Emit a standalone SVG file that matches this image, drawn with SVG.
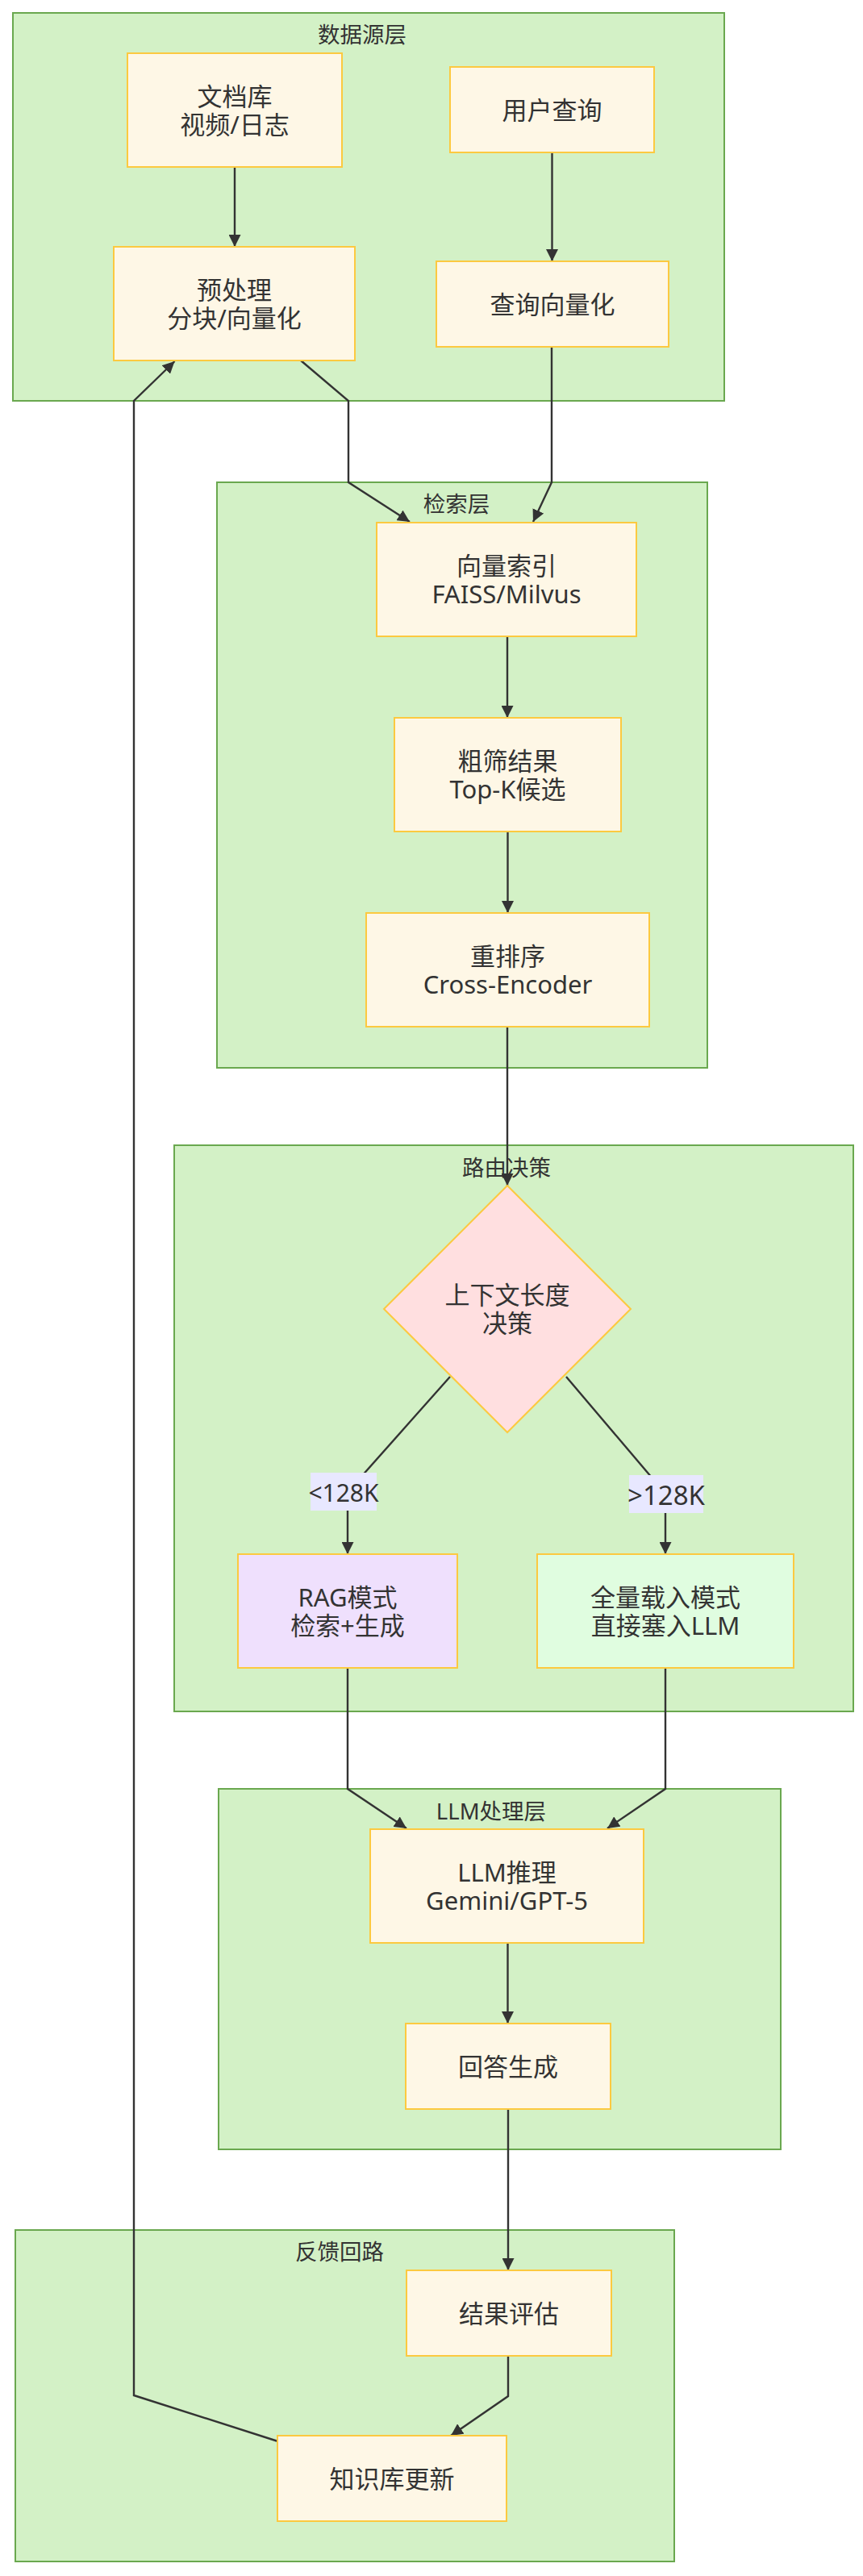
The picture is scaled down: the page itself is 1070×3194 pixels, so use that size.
<svg xmlns="http://www.w3.org/2000/svg" width="1070" height="3194" viewBox="0 0 1070 3194">
<defs>
<marker id="arr" viewBox="0 0 10 10" refX="10" refY="5" markerUnits="userSpaceOnUse" markerWidth="15" markerHeight="15" orient="auto">
<path d="M0,0 L10,5 L0,10 z" fill="#333"/>
</marker>
</defs>
<style>
.cl{fill:#d3f1c6;stroke:#6aa84f;stroke-width:2}
.ct{font-family:'Noto Sans','Noto Sans CJK SC',sans-serif;font-size:27.5px;fill:#333;text-anchor:middle;dominant-baseline:central}
.nd{fill:#fef7e6;stroke:#fcc940;stroke-width:2}
.nt{font-family:'Noto Sans','Noto Sans CJK SC',sans-serif;font-size:31px;fill:#333;text-anchor:middle;dominant-baseline:central}
.lb{fill:#e8e8ff}
.lt{font-family:'Noto Sans','Noto Sans CJK SC',sans-serif;font-size:30px;fill:#333;text-anchor:middle;dominant-baseline:central}
.ed{fill:none;stroke:#333;stroke-width:2.4;marker-end:url(#arr)}
</style>
<rect width="1070" height="3194" fill="#ffffff"/>
<g id="clusters">
<g id="cluster-data"><rect class="cl" x="16" y="16" width="882" height="481"/><text class="ct" x="449" y="42">数据源层</text></g>
<g id="cluster-retrieval"><rect class="cl" x="269" y="598" width="608" height="726"/><text class="ct" x="566" y="624">检索层</text></g>
<g id="cluster-route"><rect class="cl" x="216" y="1420" width="842" height="702"/><text class="ct" x="628" y="1447">路由决策</text></g>
<g id="cluster-llm"><rect class="cl" x="271" y="2218" width="697" height="447"/><text class="ct" x="609" y="2245">LLM处理层</text></g>
<g id="cluster-feedback"><rect class="cl" x="19" y="2765" width="817" height="411"/><text class="ct" x="421" y="2791">反馈回路</text></g>
</g>
<g id="edges">
<path class="ed" d="M291,207 L291,306"/>
<path class="ed" d="M684.5,189 L684.5,324"/>
<path class="ed" d="M373,447 L432,497 L432,598 L508,647"/>
<path class="ed" d="M684,430 L684,598 L661,647"/>
<path class="ed" d="M629,789 L629,890"/>
<path class="ed" d="M629.5,1031 L629.5,1132"/>
<path class="ed" d="M629,1273 L629,1470"/>
<path class="ed" d="M558,1707 L431,1850 L431,1927"/>
<path class="ed" d="M702,1707 L825,1852 L825,1927"/>
<path class="ed" d="M431,2068 L431,2218 L504,2267"/>
<path class="ed" d="M825,2068 L825,2218 L753,2267"/>
<path class="ed" d="M629.5,2409 L629.5,2509"/>
<path class="ed" d="M630,2615 L630,2815"/>
<path class="ed" d="M630,2921 L630,2971 L559,3020"/>
<path class="ed" d="M344.5,3027 L166,2970 L166,497 L216.5,448"/>
</g>
<g id="edge-labels">
<g id="label-lt"><rect class="lb" x="385" y="1826" width="82" height="47"/><text class="lt" x="426" y="1850">&lt;128K</text></g>
<g id="label-gt"><rect class="lb" x="780" y="1829" width="92" height="47"/><text class="lt" x="826" y="1853" style="font-size:33px">&gt;128K</text></g>
</g>
<g id="node-doc"><rect class="nd" x="158" y="66" width="266" height="141"/><text class="nt" x="291" y="119">文档库</text><text class="nt" x="291" y="154">视频/日志</text></g>
<g id="node-user"><rect class="nd" x="558" y="83" width="253" height="106"/><text class="nt" x="684.5" y="136">用户查询</text></g>
<g id="node-pre"><rect class="nd" x="141" y="306" width="299" height="141"/><text class="nt" x="290.5" y="359">预处理</text><text class="nt" x="290.5" y="394">分块/向量化</text></g>
<g id="node-qv"><rect class="nd" x="541" y="324" width="288" height="106"/><text class="nt" x="685" y="377">查询向量化</text></g>
<g id="node-vi"><rect class="nd" x="467" y="648" width="322" height="141"/><text class="nt" x="628" y="701">向量索引</text><text class="nt" x="628" y="736">FAISS/Milvus</text></g>
<g id="node-cs"><rect class="nd" x="489" y="890" width="281" height="141"/><text class="nt" x="629.5" y="943">粗筛结果</text><text class="nt" x="629.5" y="978">Top-K候选</text></g>
<g id="node-rr"><rect class="nd" x="454" y="1132" width="351" height="141"/><text class="nt" x="629.5" y="1185">重排序</text><text class="nt" x="629.5" y="1220">Cross-Encoder</text></g>
<g id="node-dec"><polygon points="629,1470 782,1623 629,1776 476,1623" fill="#ffdfe0" stroke="#fcc940" stroke-width="2"/><text class="nt" x="629" y="1605">上下文长度</text><text class="nt" x="629" y="1640">决策</text></g>
<g id="node-rag"><rect class="nd" x="295" y="1927" width="272" height="141" style="fill:#efe0fd"/><text class="nt" x="431" y="1980">RAG模式</text><text class="nt" x="431" y="2015">检索+生成</text></g>
<g id="node-full"><rect class="nd" x="666" y="1927" width="318" height="141" style="fill:#e0fde0"/><text class="nt" x="825" y="1980">全量载入模式</text><text class="nt" x="825" y="2015">直接塞入LLM</text></g>
<g id="node-llm"><rect class="nd" x="459" y="2268" width="339" height="141"/><text class="nt" x="628.5" y="2321">LLM推理</text><text class="nt" x="628.5" y="2356">Gemini/GPT-5</text></g>
<g id="node-ans"><rect class="nd" x="503" y="2509" width="254" height="106"/><text class="nt" x="630" y="2562">回答生成</text></g>
<g id="node-eval"><rect class="nd" x="504" y="2815" width="254" height="106"/><text class="nt" x="631" y="2868">结果评估</text></g>
<g id="node-kb"><rect class="nd" x="344" y="3020" width="284" height="106"/><text class="nt" x="486" y="3073">知识库更新</text></g>
</svg>
